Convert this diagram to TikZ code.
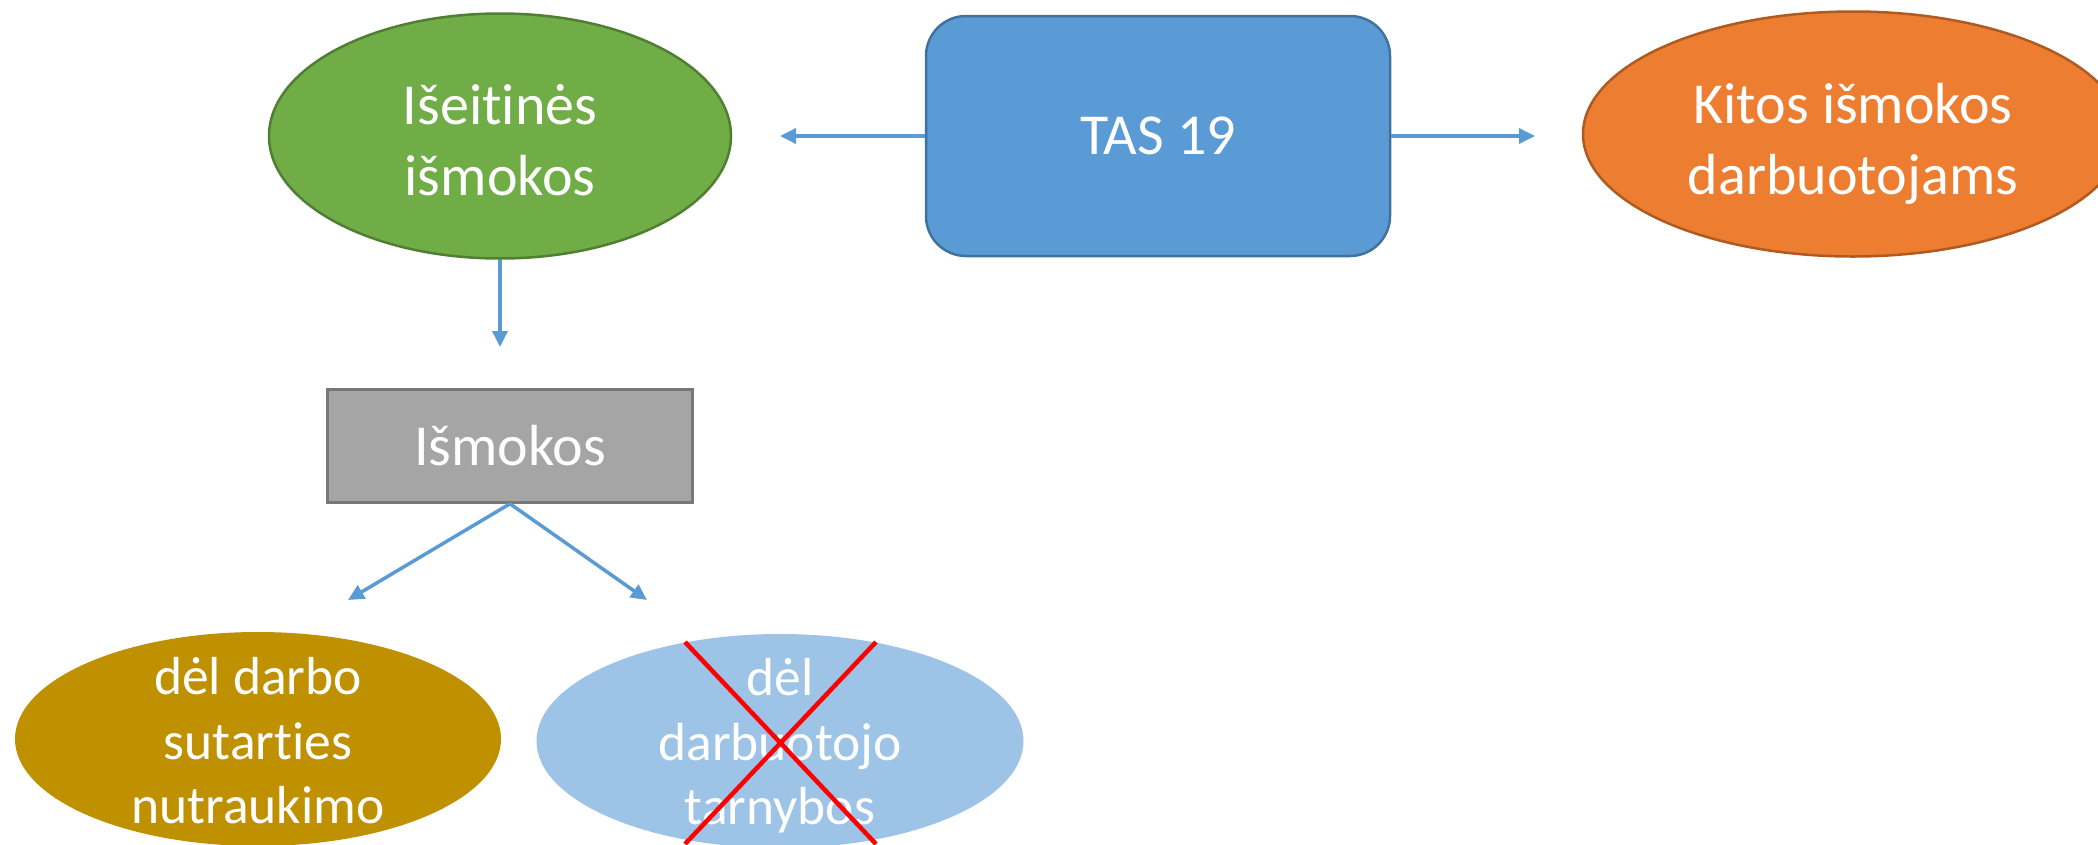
\documentclass[tikz,border=0pt]{standalone}
\usepackage{fontspec}
\setmainfont{Carlito}[RawFeature={-liga}]
\usetikzlibrary{shapes.geometric,arrows.meta}
\definecolor{gfill}{HTML}{70AD47}
\definecolor{gdraw}{HTML}{507E32}
\definecolor{bfill}{HTML}{5B9BD5}
\definecolor{bdraw}{HTML}{41719C}
\definecolor{ofill}{HTML}{ED7D31}
\definecolor{odraw}{HTML}{AE5A21}
\definecolor{grfill}{HTML}{A5A5A5}
\definecolor{grdraw}{HTML}{787878}
\definecolor{ocher}{HTML}{BF9000}
\definecolor{lblue}{HTML}{9DC3E6}
\definecolor{xred}{HTML}{FF0000}
\tikzset{
  ell/.style={ellipse, inner sep=0pt, line width=2.5pt},
  bigtxt/.style={text=white, align=center, inner sep=0pt, font=\fontsize{58pt}{71pt}\selectfont},
  smalltxt/.style={text=white, align=center, inner sep=0pt, font=\fontsize{53.5pt}{64.5pt}\selectfont},
  conn/.style={draw=bfill, line width=3.5pt, -{Triangle[length=16pt,width=15pt]}},
  cross/.style={draw=xred, line width=4.5pt}
}
\begin{document}
\begin{tikzpicture}[x=1pt,y=-1pt]
\useasboundingbox (0,0) rectangle (2098,844);
\clip (0,0) rectangle (2098,844);
% top row
\node[ell, fill=gfill, draw=gdraw, minimum width=462pt, minimum height=245pt] (sev) at (500,136) {};
\node[bigtxt] (sevt) at (500,140) {Išeitinės\\išmokos};
\node[rectangle, rounded corners=40pt, fill=bfill, draw=bdraw, line width=2.5pt, minimum width=464pt, minimum height=240pt, inner sep=0pt] (tas) at (1158,136) {};
\node[bigtxt] (tast) at (tas) {TAS 19};
\node[ell, fill=ofill, draw=odraw, minimum width=540pt, minimum height=245pt] (kit) at (1853,134) {};
\node[bigtxt] (kitt) at (1853,144) {Kitos išmokos\\darbuotojams};
% middle
\node[rectangle, fill=grfill, draw=grdraw, line width=2.5pt, minimum width=365pt, minimum height=113pt, inner sep=0pt] (ism) at (510,446) {};
\node[bigtxt] (ismt) at (ism) {Išmokos};
% bottom row
\node[ell, fill=ocher, minimum width=486pt, minimum height=214pt] (del1) at (258,739) {};
\node[smalltxt] (del1t) at (258,741) {dėl darbo\\sutarties\\nutraukimo};
\node[ell, fill=lblue, minimum width=487pt, minimum height=214pt] (del2) at (780,741) {};
\node[smalltxt] (del2t) at (780,746) {dėl\\darbuotojo\\tarnybos};
% arrow end points
\coordinate (tl) at (780,136);
\coordinate (tr) at (1535,136);
\coordinate (td) at (500,347);
\coordinate (tdl) at (348,600);
\coordinate (tdr) at (647,600);
\draw[conn] (tas.west) -- (tl);
\draw[conn] (tas.east) -- (tr);
\draw[conn] (sev.south) -- (td);
\draw[conn] (ism.south) -- (tdl);
\draw[conn] (ism.south) -- (tdr);
% red cross
\coordinate (x1) at (685,642);
\coordinate (x2) at (876,844);
\coordinate (x3) at (876,642);
\coordinate (x4) at (685,844);
\draw[cross] (x1) -- (x2);
\draw[cross] (x3) -- (x4);
\end{tikzpicture}
\end{document}
